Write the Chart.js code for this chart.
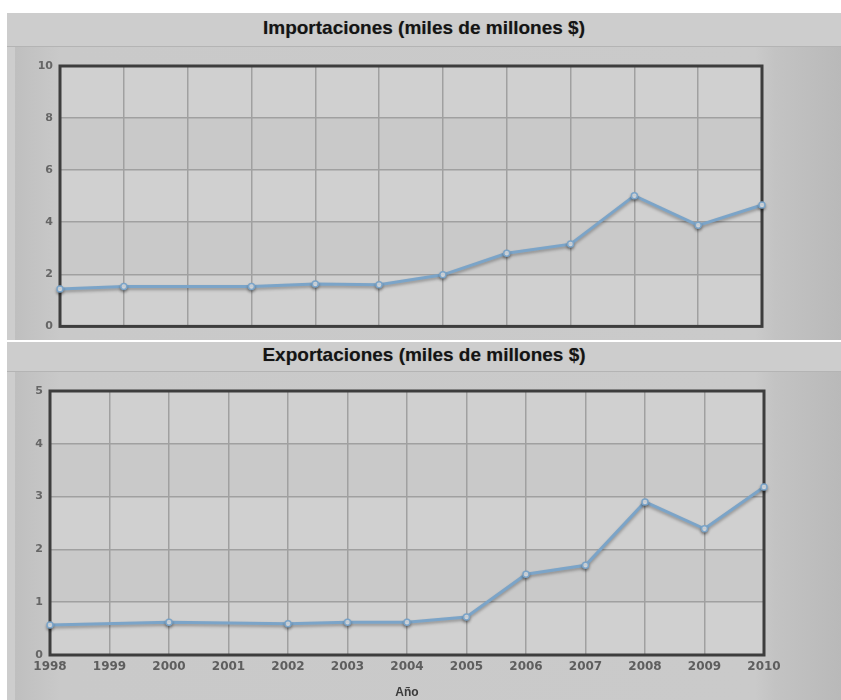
<!DOCTYPE html>
<html>
<head>
<meta charset="utf-8">
<script src="https://cdn.jsdelivr.net/npm/chart.js@4/dist/chart.umd.min.js"></script>
<style>
  html, body { margin: 0; padding: 0; background: #fff; }
  body { width: 841px; height: 700px; position: relative; overflow: hidden; font-family: "Liberation Sans", Arial, sans-serif; }
  .panel { position: absolute; left: 7px; width: 834px; background: #cdcdcd; }
  .titlebar { position: absolute; left: 0; top: 0; width: 100%; text-align: center; font-weight: bold; font-size: 19px; color: #141414; border-bottom: 1px solid #b4b4b4; text-shadow: 0 0 1px rgba(0,0,0,0.3); }
  .inner { position: absolute; left: 8px; right: 0; bottom: 0;
    background: linear-gradient(to right, #bfbfbf 0px, #c9c9c9 45px, #cacaca 740px, #c3c3c3 760px, #b9b9b9 100%); }
  canvas { position: absolute; left: 0; }
</style>
</head>
<body>
<div class="panel" style="top:13px;height:327px;">
  <div class="titlebar" style="height:33px;line-height:29px;">Importaciones (miles de millones $)</div>
  <div class="inner" style="top:34px;"></div>
</div>
<div class="panel" style="top:342px;height:358px;">
  <div class="titlebar" style="height:29px;line-height:25px;">Exportaciones (miles de millones $)</div>
  <div class="inner" style="top:30px;"></div>
</div>
<canvas id="imports" width="841" height="293" style="top:47px;"></canvas>
<canvas id="exports" width="841" height="328" style="top:372px;"></canvas>
<script>
// imports panel (x ticks are not shown on this one)
const importYears = ["1999", "2000", "2001", "2002", "2003", "2004", "2005", "2006", "2007", "2008", "2009", "2010"];
const importValues = [1.44, 1.53, null, 1.53, 1.63, 1.6, 1.98, 2.81, 3.16, 5.02, 3.88, 4.66];
const importTicks = [0, 2, 4, 6, 8, 10];

// exports panel
const exportYears = ["1998", "1999", "2000", "2001", "2002", "2003", "2004", "2005", "2006", "2007", "2008", "2009", "2010"];
const exportValues = [0.57, null, 0.62, null, 0.59, 0.62, 0.62, 0.72, 1.53, 1.7, 2.9, 2.39, 3.18];
const exportTicks = [0, 1, 2, 3, 4, 5];

const LINE = "#7ba4c8";
const GRID = "#a0a0a0";
const TICK_FONT = { family: "DejaVu Sans", size: 12, weight: "bold" };

// plot background with alternating bands, plus the dark frame
const plotFrame = {
  id: "plotFrame",
  beforeDraw(chart) {
    const { ctx, chartArea: a, scales: { y } } = chart;
    ctx.save();
    ctx.fillStyle = "#d0d0d0";
    ctx.fillRect(a.left, a.top, a.right - a.left, a.bottom - a.top);
    ctx.fillStyle = "#c9c9c9";
    for (let i = 1; i < y.ticks.length - 1; i += 2) {
      const y0 = y.getPixelForValue(y.ticks[i].value);
      const y1 = y.getPixelForValue(y.ticks[i + 1].value);
      ctx.fillRect(a.left, y1, a.right - a.left, y0 - y1);
    }
    ctx.restore();
  },
  beforeDatasetsDraw(chart) {
    const { ctx, chartArea: a } = chart;
    ctx.save();
    ctx.strokeStyle = "#3d3d3d";
    ctx.lineWidth = 3;
    ctx.strokeRect(a.left, a.top, a.right - a.left, a.bottom - a.top);
    ctx.restore();
  },
  beforeDatasetDraw(chart) {
    const ctx = chart.ctx;
    ctx.save();
    ctx.shadowColor = "rgba(0,0,0,0.3)";
    ctx.shadowBlur = 3;
    ctx.shadowOffsetY = 2;
  },
  afterDatasetDraw(chart) {
    chart.ctx.restore();
  }
};

function makeChart(id, labels, values, ticks, opts) {
  return new Chart(document.getElementById(id), {
    type: "line",
    data: {
      labels: labels,
      datasets: [{
        data: values,
        borderColor: LINE,
        borderWidth: 3,
        pointRadius: 3,
        pointBorderWidth: 1.5,
        pointBackgroundColor: "#e4ebf2",
        pointBorderColor: LINE,
        spanGaps: true,
        tension: 0,
        clip: false
      }]
    },
    options: {
      responsive: false,
      animation: false,
      layout: { padding: opts.padding },
      plugins: { legend: { display: false }, tooltip: { enabled: false } },
      scales: {
        x: {
          grid: { color: GRID, lineWidth: 1.5, drawTicks: false },
          border: { display: false },
          ticks: {
            display: opts.showX,
            font: TICK_FONT,
            color: "#5e5e5e",
            padding: 5,
            maxRotation: 0,
            autoSkip: false
          },
          title: {
            display: opts.showX,
            text: "Año",
            font: { family: "Liberation Sans", size: 12, weight: "bold" },
            color: "#3a3a3a",
            padding: 0
          },
          afterFit: (axis) => { axis.height = opts.xHeight; }
        },
        y: {
          min: ticks[0],
          max: ticks[ticks.length - 1],
          afterBuildTicks: (axis) => { axis.ticks = ticks.map(v => ({ value: v })); },
          grid: { color: GRID, lineWidth: 1.5, drawTicks: false },
          border: { display: false },
          ticks: { font: { family: "DejaVu Sans", size: 11, weight: "bold" }, color: "#666666", padding: 7 },
          afterFit: (axis) => { axis.width = opts.yWidth; }
        }
      }
    },
    plugins: [plotFrame]
  });
}

makeChart("imports", importYears, importValues, importTicks, {
  padding: { top: 19, right: 79, bottom: 11, left: 0 },
  showX: false, xHeight: 0, yWidth: 60
});

makeChart("exports", exportYears, exportValues, exportTicks, {
  padding: { top: 19, right: 77, bottom: 0, left: 0 },
  showX: true, xHeight: 45, yWidth: 50
});
</script>
</body>
</html>
